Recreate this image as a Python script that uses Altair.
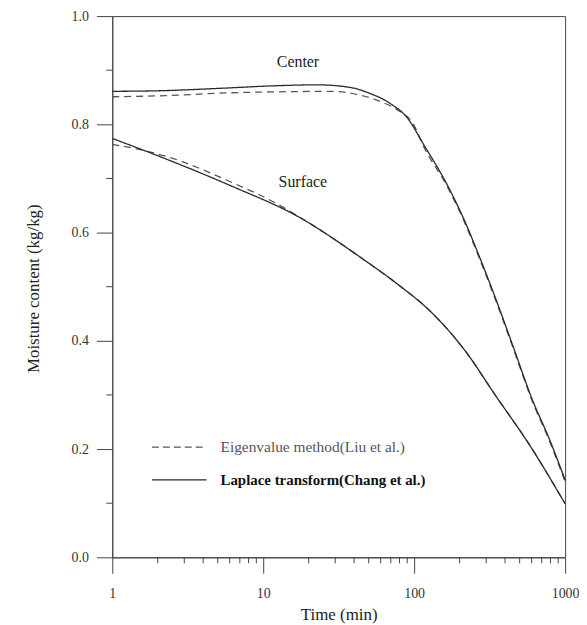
import altair as alt
import pandas as pd

FONT = "Liberation Serif"

# Center, Eigenvalue method (dashed)
center_dash_t = [1, 2.25, 5.6, 12, 28, 42, 60, 77, 99, 116, 165, 211, 271, 350, 452, 605, 788, 1000]
center_dash_m = [0.851, 0.853, 0.858, 0.860, 0.861, 0.855, 0.842, 0.827, 0.800, 0.758, 0.686, 0.625,
                 0.552, 0.472, 0.387, 0.289, 0.215, 0.140]
# Center, Laplace transform (solid)
center_solid_t = [1, 2, 5.6, 11.3, 23, 38, 51, 69, 90, 116, 165, 211, 271, 350, 452, 605, 788, 1000]
center_solid_m = [0.861, 0.862, 0.867, 0.871, 0.873, 0.868, 0.857, 0.839, 0.812, 0.762, 0.689, 0.628,
                  0.555, 0.475, 0.390, 0.292, 0.218, 0.143]
# Surface, Eigenvalue method (dashed)
surface_dash_t = [1, 1.6, 2.27, 6.16, 12, 16.9, 46.9, 77.4, 127.5, 213, 350, 577, 1000]
surface_dash_m = [0.763, 0.752, 0.741, 0.693, 0.655, 0.631, 0.549, 0.505, 0.455, 0.385, 0.297,
                  0.209, 0.099]
# Surface, Laplace transform (solid)
surface_solid_t = [1, 2.27, 6.16, 16.9, 46.9, 77.4, 127.5, 213, 350, 577, 1000]
surface_solid_m = [0.774, 0.736, 0.686, 0.630, 0.549, 0.505, 0.455, 0.385, 0.297, 0.209, 0.099]

methods = ["Eigenvalue method(Liu et al.)", "Laplace transform(Chang et al.)"]

curve_label_names = ["Center", "Surface"]
curve_label_t = [17, 18.3]
curve_label_m = [0.916, 0.694]

y_major = [0.0, 0.2, 0.4, 0.6, 0.8, 1.0]
y_minor = [0.1, 0.3, 0.5, 0.7, 0.9]
x_major = [1, 10, 100, 1000]
x_minor = [2, 3, 4, 5, 6, 7, 8, 9, 20, 30, 40, 50, 60, 70, 80, 90,
           200, 300, 400, 500, 600, 700, 800, 900]

rows = []
for curve, method, ts, ms in [
    ("center_dash", methods[0], center_dash_t, center_dash_m),
    ("center_solid", methods[1], center_solid_t, center_solid_m),
    ("surface_dash", methods[0], surface_dash_t, surface_dash_m),
    ("surface_solid", methods[1], surface_solid_t, surface_solid_m),
]:
    for t, m in zip(ts, ms):
        rows.append({"curve": curve, "method": method, "t": t, "m": m})
df = pd.DataFrame(rows)

W, H = 456, 545

x_scale = alt.Scale(type="log", domain=[1, 1000], nice=False)
y_scale = alt.Scale(domain=[0, 1], nice=False, zero=False)

x_axis = alt.Axis(values=x_major, format="d", tickSize=16, labelPadding=13, labelFlush=False,
                  title="Time (min)", titleY=58, titleBaseline="middle")
y_axis = alt.Axis(values=y_major, format=".1f", tickSize=16, labelPadding=8, labelFlush=False,
                  title="Moisture content (kg/kg)", titleX=-79, titleY=274,
                  titleAngle=-90, titleBaseline="middle", titleAlign="center")

X = alt.X("t:Q", scale=x_scale, axis=x_axis)
Y = alt.Y("m:Q", scale=y_scale, axis=y_axis)

lines = alt.Chart(df).mark_line(strokeWidth=1.3, interpolate="monotone", clip=True).encode(
    x=X, y=Y,
    detail="curve:N",
    color=alt.Color("method:N", scale=alt.Scale(domain=methods, range=["#555555", "#2a2a2a"]), legend=None),
    strokeDash=alt.StrokeDash("method:N", scale=alt.Scale(domain=methods, range=[[7, 5], [1, 0]]), legend=None),
)

labels_df = pd.DataFrame({"label": curve_label_names, "t": curve_label_t, "m": curve_label_m})
curve_labels = alt.Chart(labels_df).mark_text(font=FONT, fontSize=16, color="#222").encode(
    x=X, y=Y, text="label:N"
)

ymin_df = pd.DataFrame({"m": y_minor})
y_minor_ticks = alt.Chart(ymin_df).mark_rule(color="#444", strokeWidth=1).encode(
    y=Y, x=alt.value(-6), x2=alt.value(0)
)
xmin_df = pd.DataFrame({"t": x_minor})
x_minor_ticks = alt.Chart(xmin_df).mark_rule(color="#444", strokeWidth=1).encode(
    x=X, y=alt.value(H), y2=alt.value(H + 6)
)

leg0 = pd.DataFrame({"label": [methods[0]]})
leg1 = pd.DataFrame({"label": [methods[1]]})
leg_line0 = alt.Chart(leg0).mark_rule(color="#555", strokeWidth=1.2, strokeDash=[7, 4]).encode(
    x=alt.value(40), x2=alt.value(95), y=alt.value(434)
)
leg_text0 = alt.Chart(leg0).mark_text(font=FONT, fontSize=15.5, color="#555", align="left",
                                       baseline="middle").encode(
    x=alt.value(109), y=alt.value(434), text="label:N"
)
leg_line1 = alt.Chart(leg1).mark_rule(color="#2a2a2a", strokeWidth=1.2).encode(
    x=alt.value(40), x2=alt.value(95), y=alt.value(467)
)
leg_text1 = alt.Chart(leg1).mark_text(font=FONT, fontSize=15, fontWeight="bold", color="#111",
                                       align="left", baseline="middle").encode(
    x=alt.value(109), y=alt.value(467), text="label:N"
)

chart = alt.layer(
    lines, curve_labels, y_minor_ticks, x_minor_ticks,
    leg_line0, leg_text0, leg_line1, leg_text1
).properties(
    width=W, height=H,
    autosize=alt.AutoSizeParams(type="none"),
    padding={"left": 105, "top": 6, "right": 14, "bottom": 66},
).configure_axis(
    labelFont=FONT, labelFontSize=14, labelColor="#333",
    titleFont=FONT, titleFontSize=17, titleFontWeight="normal", titleColor="#222",
    domainColor="#444", tickColor="#444", grid=False,
).configure_view(stroke="#444", strokeWidth=1)

chart.save("out.html", embed_options={"renderer": "svg", "actions": False})
